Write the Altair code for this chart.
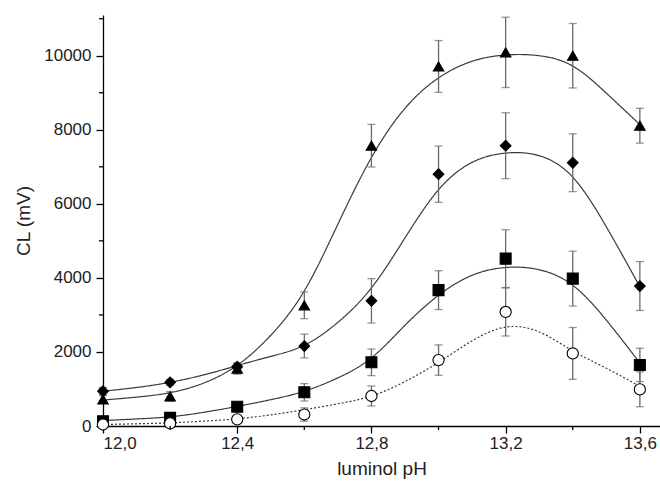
import altair as alt
import pandas as pd

# Measured luminol pH points (0.2 steps) and CL response with error bars
ph = [12.0, 12.2, 12.4, 12.6, 12.8, 13.0, 13.2, 13.4, 13.6]

tri = [720, 800, 1550, 3260, 7570, 9710, 10090, 10000, 8110]
tri_err = [100, 130, 150, 360, 575, 700, 950, 870, 470]

dia = [940, 1180, 1600, 2160, 3380, 6800, 7570, 7110, 3780]
dia_err = [100, 80, 100, 320, 600, 760, 890, 780, 660]

sq = [130, 220, 520, 910, 1720, 3670, 4520, 3980, 1650]
sq_err = [60, 60, 110, 235, 360, 525, 780, 740, 450]

circ = [40, 70, 180, 310, 810, 1780, 3080, 1960, 990]
circ_err = [20, 30, 50, 180, 270, 410, 650, 700, 470]

# Fitted curves sampled every 0.1 pH unit
ph_fit = [12.0, 12.1, 12.2, 12.3, 12.4, 12.5, 12.6, 12.7, 12.8,
          12.9, 13.0, 13.1, 13.2, 13.3, 13.4, 13.5, 13.6]
tri_fit = [700, 780, 900, 1160, 1640, 2450, 3650, 5450, 7250,
           8580, 9400, 9850, 10020, 10000, 9720, 8990, 8140]
dia_fit = [940, 1040, 1180, 1380, 1630, 1880, 2180, 2800, 3730,
           5080, 6380, 7120, 7370, 7300, 6720, 5380, 3760]
sq_fit = [148, 190, 250, 370, 530, 710, 940, 1300, 1840,
          2720, 3530, 4070, 4280, 4220, 3800, 2860, 1700]
circ_fit = [40, 60, 86, 130, 194, 300, 440, 600, 810,
            1200, 1720, 2300, 2670, 2540, 2030, 1560, 1070]

x_major = [12.0, 12.4, 12.8, 13.2, 13.6]
x_minor = [12.2, 12.6, 13.0, 13.4]
y_major = [0, 2000, 4000, 6000, 8000, 10000]
y_minor = [1000, 3000, 5000, 7000, 9000, 11000]

series = ["tri", "dia", "sq", "circ"]
shapes = ["triangle-up", "diamond", "square", "circle"]
fills = ["black", "black", "black", "white"]
sizes = [110, 125, 62, 90]
dashes = [[1, 0], [1, 0], [1, 0], [2, 2]]

pts_rows, fit_rows = [], []
for name, vals, errs in [("tri", tri, tri_err), ("dia", dia, dia_err),
                         ("sq", sq, sq_err), ("circ", circ, circ_err)]:
    for x, v, e in zip(ph, vals, errs):
        pts_rows.append({"s": name, "ph": x, "cl": v, "lo": v - e, "hi": v + e})
for name, vals in [("tri", tri_fit), ("dia", dia_fit), ("sq", sq_fit), ("circ", circ_fit)]:
    for x, v in zip(ph_fit, vals):
        fit_rows.append({"s": name, "ph": x, "cl": v})

pts = pd.DataFrame(pts_rows)
fits = pd.DataFrame(fit_rows)

FONT = "Liberation Sans"
W, H = 557, 411

xscale = alt.Scale(domain=[12.0, 13.66], nice=False, zero=False)
yscale = alt.Scale(domain=[0, 11100], nice=False)

xaxis = alt.Axis(values=x_major, labelExpr="replace(format(datum.value, '.1f'), '.', ',')",
                 title="luminol pH", grid=False, tickSize=7, tickColor="black",
                 domainColor="black", domainWidth=1.3, tickWidth=1.3,
                 labelFont=FONT, labelFontSize=17, labelColor="#222", labelPadding=2,
                 titleFont=FONT, titleFontSize=19, titleFontWeight="normal",
                 titleColor="#222", titlePadding=8)
yaxis = alt.Axis(values=y_major, format="d", title="CL (mV)", grid=False, tickSize=7,
                 tickColor="black", domainColor="black", domainWidth=1.3, tickWidth=1.3,
                 labelFont=FONT, labelFontSize=17, labelColor="#222", labelPadding=5,
                 titleFont=FONT, titleFontSize=19, titleFontWeight="normal",
                 titleColor="#222", titlePadding=10)

X = alt.X("ph:Q", scale=xscale, axis=xaxis)
Y = alt.Y("cl:Q", scale=yscale, axis=yaxis)

curves = alt.Chart(fits).mark_line(interpolate="natural", strokeWidth=1.2, color="#3a3a3a").encode(
    x=X, y=Y,
    strokeDash=alt.StrokeDash("s:N", scale=alt.Scale(domain=series, range=dashes), legend=None),
    detail="s:N",
)

bars = alt.Chart(pts).mark_rule(color="#6a6a6a", strokeWidth=1.3).encode(
    x=X, y=alt.Y("lo:Q", scale=yscale, axis=yaxis), y2="hi:Q"
)
caps_hi = alt.Chart(pts).mark_tick(color="#6a6a6a", orient="horizontal", size=8, thickness=1.3).encode(
    x=X, y=alt.Y("hi:Q", scale=yscale, axis=yaxis)
)
caps_lo = alt.Chart(pts).mark_tick(color="#6a6a6a", orient="horizontal", size=8, thickness=1.3).encode(
    x=X, y=alt.Y("lo:Q", scale=yscale, axis=yaxis)
)

markers = alt.Chart(pts).mark_point(opacity=1, stroke="black", strokeWidth=1.1).encode(
    x=X, y=Y,
    shape=alt.Shape("s:N", scale=alt.Scale(domain=series, range=shapes), legend=None),
    fill=alt.Fill("s:N", scale=alt.Scale(domain=series, range=fills), legend=None),
    size=alt.Size("s:N", scale=alt.Scale(domain=series, range=sizes), legend=None),
)

xminor = alt.Chart(pd.DataFrame({"ph": x_minor})).mark_rule(color="black", strokeWidth=1.3).encode(
    x=alt.X("ph:Q", scale=xscale, axis=xaxis), y=alt.value(H), y2=alt.value(H + 4)
)
yminor = alt.Chart(pd.DataFrame({"cl": y_minor})).mark_rule(color="black", strokeWidth=1.3).encode(
    y=alt.Y("cl:Q", scale=yscale, axis=yaxis), x=alt.value(0), x2=alt.value(-4)
)

chart = alt.layer(curves, bars, caps_hi, caps_lo, markers, xminor, yminor).properties(
    width=W, height=H,
    padding={"left": 103, "top": 15, "right": 0, "bottom": 61},
    autosize=alt.AutoSizeParams(type="none"),
    background="white",
).configure_view(stroke=None)

chart.save("out.html", embed_options={"renderer": "svg", "actions": False})
